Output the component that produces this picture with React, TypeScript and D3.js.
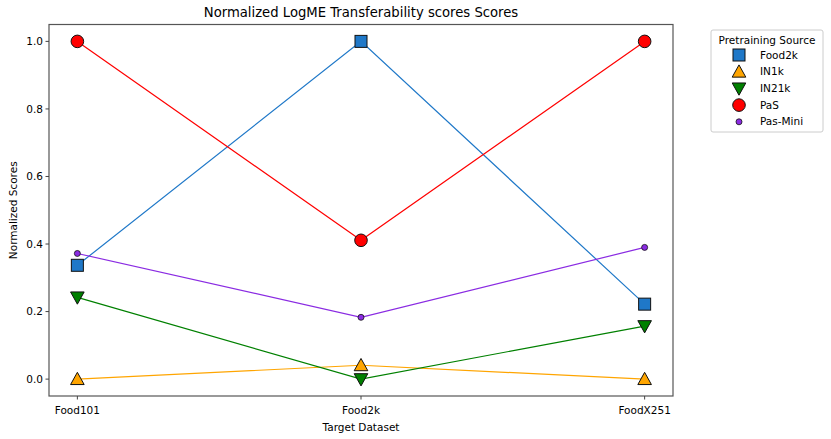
import * as d3 from "d3";

const datasets = ["Food101", "Food2k", "FoodX251"];
const sources = ["Food2k", "IN1k", "IN21k", "PaS", "Pas-Mini"];
const food2kScores = [0.337, 1.0, 0.222];
const in1kScores = [0.0, 0.041, 0.0];
const in21kScores = [0.242, 0.0, 0.157];
const pasScores = [1.0, 0.411, 1.0];
const pasMiniScores = [0.372, 0.183, 0.39];
const yTicks = [0.0, 0.2, 0.4, 0.6, 0.8, 1.0];

const seriesValues = [food2kScores, in1kScores, in21kScores, pasScores, pasMiniScores];
const colors = ["#1f78c8", "#ffa500", "#008000", "#ff0000", "#8a2be2"];
const markers = ["square", "triangleUp", "triangleDown", "circle", "smallCircle"];

const width = 831;
const height = 439;
const frame = { left: 49, top: 24.5, right: 673, bottom: 396 };
const font = "'DejaVu Sans', sans-serif";
const tickSize = 10.5;

const x = d3.scaleLinear().domain([-0.1, 2.1]).range([frame.left, frame.right]);
const y = d3.scaleLinear().domain([-0.05, 1.05]).range([frame.bottom, frame.top]);

const line = d3
  .line<number>()
  .x((_, i) => x(i))
  .y((d) => y(d));

function Marker({ kind, cx, cy, fill }: { kind: string; cx: number; cy: number; fill: string }) {
  const stroke = "#111";
  if (kind === "square") {
    return <rect x={cx - 6} y={cy - 6} width={12} height={12} fill={fill} stroke={stroke} strokeWidth={1} />;
  }
  if (kind === "circle") {
    return <circle cx={cx} cy={cy} r={6.3} fill={fill} stroke={stroke} strokeWidth={1} />;
  }
  if (kind === "smallCircle") {
    return <circle cx={cx} cy={cy} r={3} fill={fill} stroke={stroke} strokeWidth={0.8} />;
  }
  const s = 6.8;
  const pts =
    kind === "triangleUp"
      ? [[cx, cy - s], [cx - s, cy + s * 0.8], [cx + s, cy + s * 0.8]]
      : [[cx, cy + s], [cx - s, cy - s * 0.8], [cx + s, cy - s * 0.8]];
  return <polygon points={pts.map((p) => p.join(",")).join(" ")} fill={fill} stroke={stroke} strokeWidth={1} />;
}

export default function App() {
  const legendX = 711;
  const legendY = 30;
  const legendRow = 16.7;

  return (
    <div style={{ position: "fixed", left: 0, top: 0 }}>
      <svg width={width} height={height} viewBox={`0 0 ${width} ${height}`} style={{ display: "block", background: "#fff" }}>
        <text x={(frame.left + frame.right) / 2} y={17} textAnchor="middle" fontFamily={font} fontSize={13.2} fill="#000">
          Normalized LogME Transferability scores Scores
        </text>

        {seriesValues.map((values, si) => (
          <g key={sources[si]}>
            <path d={line(values) ?? ""} fill="none" stroke={colors[si]} strokeWidth={1.2} />
            {values.map((v, i) => (
              <Marker key={i} kind={markers[si]} cx={x(i)} cy={y(v)} fill={colors[si]} />
            ))}
          </g>
        ))}

        <rect
          x={frame.left}
          y={frame.top}
          width={frame.right - frame.left}
          height={frame.bottom - frame.top}
          fill="none"
          stroke="#555"
          strokeWidth={1.2}
        />

        {yTicks.map((t) => (
          <g key={t} transform={`translate(${frame.left},${y(t)})`}>
            <line x1={-3.5} x2={0} stroke="#444" strokeWidth={1} />
            <text x={-6} dy="0.35em" textAnchor="end" fontFamily={font} fontSize={tickSize} fill="#000">
              {t.toFixed(1)}
            </text>
          </g>
        ))}

        {datasets.map((d, i) => (
          <g key={d} transform={`translate(${x(i)},${frame.bottom})`}>
            <line y1={0} y2={3.5} stroke="#444" strokeWidth={1} />
            <text y={17.5} textAnchor="middle" fontFamily={font} fontSize={tickSize} fill="#000">
              {d}
            </text>
          </g>
        ))}

        <text x={(frame.left + frame.right) / 2} y={431} textAnchor="middle" fontFamily={font} fontSize={tickSize} fill="#000">
          Target Dataset
        </text>
        <text
          transform={`translate(17,${(frame.top + frame.bottom) / 2}) rotate(-90)`}
          textAnchor="middle"
          fontFamily={font}
          fontSize={tickSize}
          fill="#000"
        >
          Normalized Scores
        </text>

        <g>
          <rect x={legendX} y={legendY} width={112} height={102} rx={2} fill="#fff" stroke="#ccc" strokeWidth={1} />
          <text x={legendX + 56} y={legendY + 13.5} textAnchor="middle" fontFamily={font} fontSize={tickSize} fill="#000">
            Pretraining Source
          </text>
          {sources.map((s, si) => {
            const cy = legendY + 25 + si * legendRow;
            return (
              <g key={s}>
                <Marker kind={markers[si]} cx={legendX + 28} cy={cy} fill={colors[si]} />
                <text x={legendX + 49} y={cy} dy="0.35em" fontFamily={font} fontSize={tickSize} fill="#000">
                  {s}
                </text>
              </g>
            );
          })}
        </g>
      </svg>
    </div>
  );
}
